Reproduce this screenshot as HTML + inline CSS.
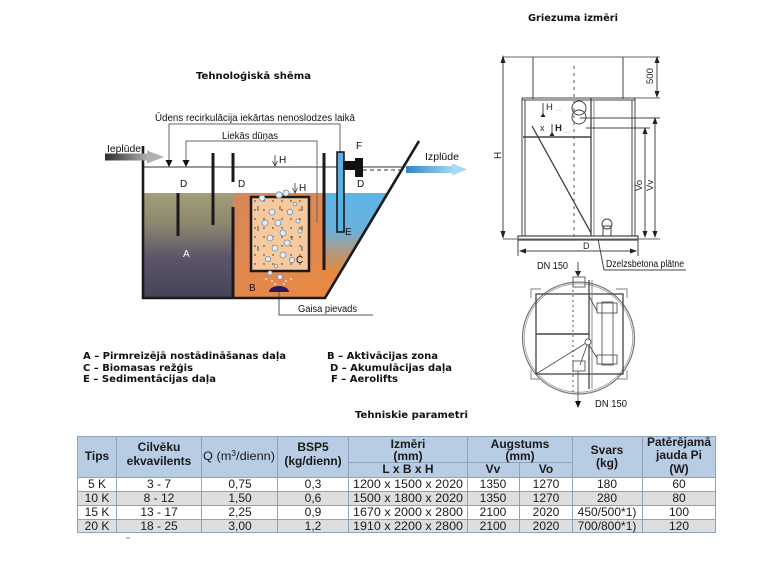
<!DOCTYPE html>
<html><head><meta charset="utf-8">
<style>
html,body{margin:0;padding:0;background:#fff;}
body{width:784px;height:581px;overflow:hidden;}
svg{display:block;}
</style></head>
<body>
<svg width="784" height="581" viewBox="0 0 784 581" xmlns="http://www.w3.org/2000/svg" font-family="'Liberation Sans', Arial, sans-serif">
<defs>
 <linearGradient id="gA" x1="0" y1="0" x2="0" y2="1">
  <stop offset="0" stop-color="#a29e76"/>
  <stop offset="0.3" stop-color="#8c8670"/>
  <stop offset="0.6" stop-color="#5e576a"/>
  <stop offset="1" stop-color="#474257"/>
 </linearGradient>
 <linearGradient id="gB" x1="0" y1="0" x2="1" y2="1">
  <stop offset="0" stop-color="#d8875c"/>
  <stop offset="1" stop-color="#ec8a3c"/>
 </linearGradient>
 <linearGradient id="gE" x1="0" y1="193" x2="0" y2="278" gradientUnits="userSpaceOnUse">
  <stop offset="0" stop-color="#5cb6e8"/>
  <stop offset="0.45" stop-color="#6cb0dc"/>
  <stop offset="0.68" stop-color="#b09a84"/>
  <stop offset="1" stop-color="#f08428"/>
 </linearGradient>
 <linearGradient id="gIn" x1="0" y1="0" x2="1" y2="0">
  <stop offset="0" stop-color="#2e2e2e"/>
  <stop offset="1" stop-color="#b4b4b4"/>
 </linearGradient>
 <linearGradient id="gOut" x1="0" y1="0" x2="1" y2="0">
  <stop offset="0" stop-color="#2f86cc"/>
  <stop offset="1" stop-color="#a8d8f4"/>
 </linearGradient>
 <pattern id="dots" width="9" height="9" patternUnits="userSpaceOnUse" x="252" y="198">
  <circle cx="3" cy="3" r="0.7" fill="#222"/>
 </pattern>
</defs>

<!-- ===== Titles ===== -->
<text x="196" y="79" font-family="'DejaVu Sans', sans-serif" font-size="10" font-weight="bold" fill="#111" textLength="115" lengthAdjust="spacingAndGlyphs">Tehnoloģiskā shēma</text>
<text x="528" y="21" font-family="'DejaVu Sans', sans-serif" font-size="10" font-weight="bold" fill="#111" textLength="90" lengthAdjust="spacingAndGlyphs">Griezuma izmēri</text>

<!-- ===== Left technological scheme ===== -->
<polygon points="233,193 388,193 325,298 233,298" fill="url(#gB)"/>
<rect x="143" y="193" width="90" height="105" fill="url(#gA)"/>
<polygon points="326,193 388,193 339,275 326,275" fill="url(#gE)"/>

<!-- box C -->
<rect x="251" y="197" width="58" height="74" fill="#f7c99e"/>
<rect x="251" y="197" width="58" height="74" fill="url(#dots)"/>
<g stroke="#333" stroke-width="0.8" fill="none">
 <path d="M258,206 v5 M258,226 v5 M258,246 v5 M302,206 v5 M302,226 v5 M302,246 v5 M280,206 v4 M270,236 v4 M292,236 v4"/>
</g>
<rect x="251" y="197" width="58" height="74" fill="none" stroke="#1a1a1a" stroke-width="2.5"/>

<!-- bubbles -->
<g fill="#e2ecf2" stroke="#6f8ea6" stroke-width="0.8">
 <circle cx="262" cy="198" r="3"/><circle cx="279" cy="195" r="3.2"/><circle cx="286" cy="193" r="3"/>
 <circle cx="272" cy="212" r="3"/><circle cx="290" cy="212" r="2.8"/><circle cx="265" cy="223" r="3"/>
 <circle cx="278" cy="223" r="3"/><circle cx="283" cy="233" r="3"/><circle cx="270" cy="238" r="3"/>
 <circle cx="287" cy="243" r="3"/><circle cx="275" cy="248" r="3"/><circle cx="283" cy="255" r="3"/>
 <circle cx="268" cy="259" r="2.6"/><circle cx="292" cy="260" r="2.6"/><circle cx="298" cy="221" r="2"/>
 <circle cx="300" cy="231" r="2"/><circle cx="270" cy="273" r="2.2"/><circle cx="280" cy="277" r="2.5"/>
 <circle cx="295" cy="204" r="1.8"/><circle cx="276" cy="266" r="1.8"/>
</g>
<g fill="#fff">
 <circle cx="266" cy="279" r="0.9"/><circle cx="272" cy="281" r="0.9"/><circle cx="286" cy="281" r="0.9"/><circle cx="291" cy="279" r="0.9"/><circle cx="275" cy="284" r="0.9"/><circle cx="284" cy="284" r="0.9"/>
</g>

<!-- diffuser and air line -->
<path d="M269,292 A10,6 0 0 1 289,292 Z" fill="#2a1860"/>
<path d="M279,292 V315 H373" fill="none" stroke="#555" stroke-width="1"/>
<text x="298" y="312" font-size="10" fill="#111" textLength="59" lengthAdjust="spacingAndGlyphs">Gaisa pievads</text>

<!-- water level line -->
<line x1="143" y1="167" x2="404" y2="167" stroke="#333" stroke-width="1"/>

<!-- tank walls -->
<line x1="143" y1="146" x2="143" y2="299" stroke="#1a1a1a" stroke-width="2.6"/>
<line x1="142" y1="298" x2="326" y2="298" stroke="#1a1a1a" stroke-width="2.6"/>
<line x1="419" y1="141" x2="325" y2="298" stroke="#1a1a1a" stroke-width="2.6"/>

<!-- baffles -->
<g stroke="#1a1a1a" stroke-width="3">
 <line x1="178" y1="193" x2="178" y2="236"/>
 <line x1="213" y1="153" x2="213" y2="225"/>
 <line x1="233" y1="153" x2="233" y2="182"/>
 <line x1="233" y1="207" x2="233" y2="298"/>
 <line x1="324" y1="153" x2="324" y2="270"/>
</g>

<!-- recirculation / excess sludge lines -->
<path d="M169,162 V124 H340 V152" fill="none" stroke="#666" stroke-width="1"/>
<path d="M186,162 V141 H317 V223" fill="none" stroke="#666" stroke-width="1"/>
<polygon points="165.5,160 172.5,160 169,167" fill="#111"/>
<polygon points="182.5,160 189.5,160 186,167" fill="#111"/>

<!-- airlift pipe -->
<rect x="337" y="152" width="7" height="80" fill="#5ab0e0" stroke="#111" stroke-width="1.5"/>
<rect x="343" y="161" width="15" height="9" fill="#111"/>
<rect x="355" y="158" width="8" height="19" fill="#111"/>
<line x1="363" y1="170" x2="405" y2="170" stroke="#333" stroke-width="1" stroke-dasharray="4,3"/>

<!-- inflow arrow -->
<rect x="105" y="153.5" width="44" height="7" fill="url(#gIn)"/>
<polygon points="147,150.5 164,157 147,163.5" fill="#b0b0b0"/>
<!-- outflow arrow -->
<rect x="406" y="166" width="48" height="7" fill="url(#gOut)"/>
<polygon points="452,163.5 467,169.5 452,175.5" fill="#a8d8f4"/>

<!-- H markers -->
<g stroke="#333" stroke-width="0.8" fill="none">
 <line x1="275" y1="155" x2="275" y2="166"/>
 <path d="M272.5,161 L275,166 L277.5,161"/>
 <line x1="295" y1="183" x2="295" y2="193"/>
 <path d="M292.5,188 L295,193 L297.5,188"/>
</g>
<text x="279" y="163" font-size="10" fill="#111">H</text>
<text x="286" y="167" font-size="8" fill="#999">...</text>
<text x="299" y="191" font-size="10" fill="#111">H</text>
<text x="306" y="195" font-size="8" fill="#999">..</text>

<!-- labels -->
<g font-size="10" fill="#111">
 <text x="155" y="121" textLength="200" lengthAdjust="spacingAndGlyphs">Ūdens recirkulācija iekārtas nenoslodzes laikā</text>
 <text x="222" y="139" textLength="56" lengthAdjust="spacingAndGlyphs">Liekās dūņas</text>
 <text x="107" y="152" textLength="34" lengthAdjust="spacingAndGlyphs">Ieplūde</text>
 <text x="425" y="160" textLength="34" lengthAdjust="spacingAndGlyphs">Izplūde</text>
 <text x="356" y="149">F</text>
 <text x="180" y="187">D</text>
 <text x="238" y="187">D</text>
 <text x="357" y="187">D</text>
 <text x="345" y="235">E</text>
 <text x="296" y="263">C</text>
 <text x="249" y="291">B</text>
</g>
<text x="183" y="257" font-size="10" fill="#fff">A</text>

<!-- ===== Right: section view ===== -->
<g stroke="#444" stroke-width="1" fill="none">
 <line x1="503" y1="57" x2="660" y2="57" stroke="#666"/>
 <line x1="533" y1="57" x2="533" y2="99"/>
 <line x1="623" y1="57" x2="623" y2="99"/>
 <line x1="623" y1="98" x2="660" y2="98" stroke="#666"/>
 <rect x="522" y="98" width="113" height="138"/>
 <line x1="525" y1="100" x2="525" y2="236"/>
 <line x1="632" y1="100" x2="632" y2="236"/>
 <line x1="522" y1="100" x2="635" y2="100"/>
 <line x1="591" y1="98" x2="591" y2="236" stroke-width="1.3"/>
 <line x1="594" y1="100" x2="594" y2="236" stroke="#888"/>
 <line x1="523" y1="137" x2="591" y2="137" stroke-width="1.5"/>
 <line x1="580" y1="118" x2="660" y2="118"/>
 <line x1="586" y1="128" x2="650" y2="128"/>
 <circle cx="579" cy="108" r="7"/>
 <circle cx="579" cy="117" r="7"/>
 <line x1="532" y1="126" x2="591" y2="233" stroke-width="1.3"/>
 <circle cx="607" cy="224" r="5"/>
 <rect x="603" y="226" width="8" height="10"/>
 <rect x="518" y="236" width="120" height="4" stroke-width="1.2"/>
 <line x1="503" y1="239" x2="660" y2="239" stroke="#666"/>
 <line x1="503" y1="60" x2="503" y2="236"/>
 <line x1="657" y1="60" x2="657" y2="95"/>
 <line x1="655" y1="121" x2="655" y2="236"/>
 <line x1="645" y1="131" x2="645" y2="236"/>
 <line x1="518" y1="240" x2="518" y2="256"/>
 <line x1="638" y1="240" x2="638" y2="256"/>
 <line x1="521" y1="251" x2="635" y2="251"/>
 <path d="M598,239 L604,270 H686"/>
 <line x1="543" y1="103" x2="543" y2="117"/>
 <line x1="552" y1="124" x2="552" y2="136"/>
</g>
<line x1="574" y1="66" x2="574" y2="240" stroke="#555" stroke-width="1" stroke-dasharray="3,4"/>
<g fill="#222">
 <polygon points="503,55 500.5,63 505.5,63"/>
 <polygon points="503,239 500.5,231 505.5,231"/>
 <polygon points="657,56 654.5,63 659.5,63"/>
 <polygon points="657,98 654.5,91 659.5,91"/>
 <polygon points="655,117 652.5,124 657.5,124"/>
 <polygon points="655,238 652.5,231 657.5,231"/>
 <polygon points="645,127 642.5,134 647.5,134"/>
 <polygon points="645,238 642.5,231 647.5,231"/>
 <polygon points="519,251 526,248.5 526,253.5"/>
 <polygon points="637,251 630,248.5 630,253.5"/>
 <polygon points="540.5,117 545.5,117 543,113"/>
 <polygon points="549.5,136 554.5,136 552,132"/>
</g>
<g font-size="9.5" fill="#222">
 <text x="546" y="110">H</text><text x="556" y="111" font-size="7" fill="#999">...</text>
 <text x="540" y="131" font-size="9">x</text>
 <text x="555" y="131" font-weight="bold">H</text><text x="564" y="133" font-size="7" fill="#999">...</text>
 <text x="583" y="249" font-size="9">D</text>
 <text transform="translate(501,159) rotate(-90)" font-size="10">H</text>
 <text transform="translate(653,84) rotate(-90)" font-size="9.5">500</text>
 <text transform="translate(642,191) rotate(-90)" font-size="9.5">Vo</text>
 <text transform="translate(653,191) rotate(-90)" font-size="9.5">Vv</text>
</g>
<text x="606" y="267" font-size="10" fill="#111" textLength="78" lengthAdjust="spacingAndGlyphs">Dzelzsbetona plātne</text>
<text x="537" y="269" font-size="10" fill="#111" textLength="31" lengthAdjust="spacingAndGlyphs">DN 150</text>
<line x1="578" y1="262" x2="578" y2="276" stroke="#333" stroke-width="1"/>
<polygon points="575,271 581,271 578,277" fill="#111"/>

<!-- ===== Right: plan view ===== -->
<g fill="none" stroke="#777" stroke-width="1.2">
 <circle cx="578.5" cy="338" r="56"/>
 <circle cx="578.5" cy="338" r="54.3" stroke="#999" stroke-width="0.8"/>
 <path d="M531,298 V289 H541 M616,289 H627 V298 M531,370 V379 H541 M616,379 H627 V370" stroke="#999"/>
</g>
<g fill="none" stroke="#444" stroke-width="1.3">
 <rect x="536" y="294" width="87" height="80"/>
 <line x1="536" y1="334" x2="589" y2="334" stroke-width="1.6"/>
 <line x1="589" y1="280" x2="589" y2="389"/>
 <line x1="592" y1="280" x2="592" y2="389" stroke="#888" stroke-width="1"/>
</g>
<g fill="none" stroke="#555" stroke-width="0.9">
 <rect x="573" y="277" width="12" height="10"/>
 <rect x="573" y="361" width="12" height="10"/>
 <line x1="578" y1="262" x2="578" y2="277"/>
 <line x1="578" y1="371" x2="578" y2="403"/>
 <line x1="536" y1="374" x2="586" y2="343"/>
 <circle cx="588" cy="342" r="3" fill="#fff"/>
 <line x1="589" y1="345" x2="597" y2="358"/>
 <line x1="587" y1="345" x2="580" y2="365"/>
 <line x1="589" y1="296" x2="597" y2="311"/>
 <rect x="602" y="302" width="11" height="63"/>
 <rect x="597" y="303" width="20" height="10"/>
 <rect x="597" y="355" width="20" height="9"/>
</g>
<line x1="573" y1="280" x2="573" y2="392" stroke="#555" stroke-width="1" stroke-dasharray="2,3"/>
<polygon points="575,401 581,401 578,408" fill="#111"/>
<text x="595" y="407" font-size="10" fill="#111" textLength="32" lengthAdjust="spacingAndGlyphs">DN 150</text>

<!-- ===== Legend ===== -->
<g font-family="'DejaVu Sans', sans-serif" font-size="9.5" font-weight="bold" fill="#111">
 <text x="83" y="359" textLength="203" lengthAdjust="spacingAndGlyphs">A – Pirmreizējā nostādināšanas daļa</text>
 <text x="83" y="371" textLength="110" lengthAdjust="spacingAndGlyphs">C – Biomasas režģis</text>
 <text x="83" y="382" textLength="133" lengthAdjust="spacingAndGlyphs">E – Sedimentācijas daļa</text>
 <text x="327" y="359" textLength="111" lengthAdjust="spacingAndGlyphs">B – Aktivācijas zona</text>
 <text x="330" y="371" textLength="122" lengthAdjust="spacingAndGlyphs">D – Akumulācijas daļa</text>
 <text x="331" y="382" textLength="67" lengthAdjust="spacingAndGlyphs">F – Aerolifts</text>
 <text x="355" y="418" textLength="113" lengthAdjust="spacingAndGlyphs">Tehniskie parametri</text>
</g>

<!-- ===== Table ===== -->
<rect x="77" y="436" width="639" height="41" fill="#b8cce4"/>
<rect x="77" y="477" width="639" height="14" fill="#ffffff"/>
<rect x="77" y="491" width="639" height="14" fill="#dedede"/>
<rect x="77" y="505" width="639" height="14" fill="#ffffff"/>
<rect x="77" y="519" width="639" height="14" fill="#dedede"/>
<g stroke="#8ea2bb" stroke-width="1" fill="none">
 <rect x="77.5" y="436.5" width="638" height="96"/>
 <line x1="77" y1="477.5" x2="716" y2="477.5"/>
 <line x1="77" y1="491.5" x2="716" y2="491.5"/>
 <line x1="77" y1="505.5" x2="716" y2="505.5"/>
 <line x1="77" y1="519.5" x2="716" y2="519.5"/>
 <line x1="348" y1="462.5" x2="572" y2="462.5"/>
 <line x1="116.5" y1="436" x2="116.5" y2="533"/>
 <line x1="201.5" y1="436" x2="201.5" y2="533"/>
 <line x1="277.5" y1="436" x2="277.5" y2="533"/>
 <line x1="348.5" y1="436" x2="348.5" y2="533"/>
 <line x1="467.5" y1="436" x2="467.5" y2="533"/>
 <line x1="519.5" y1="462" x2="519.5" y2="533"/>
 <line x1="572.5" y1="436" x2="572.5" y2="533"/>
 <line x1="642.5" y1="436" x2="642.5" y2="533"/>
</g>
<g font-size="12" font-weight="bold" fill="#1a1a1a" text-anchor="middle">
 <text x="97" y="460">Tips</text>
 <text x="159" y="451">Cilvēku</text>
 <text x="159" y="465">ekvavilents</text>
 <text x="313" y="451">BSP5</text>
 <text x="313" y="465">(kg/dienn)</text>
 <text x="408" y="448">Izmēri</text>
 <text x="408" y="460">(mm)</text>
 <text x="408" y="473">L x B x H</text>
 <text x="520" y="448">Augstums</text>
 <text x="520" y="460">(mm)</text>
 <text x="493" y="473">Vv</text>
 <text x="546" y="473">Vo</text>
 <text x="607" y="454">Svars</text>
 <text x="607" y="467">(kg)</text>
 <text x="679" y="446">Patērējamā</text>
 <text x="679" y="459">jauda Pi</text>
 <text x="679" y="473">(W)</text>
</g>
<text x="203" y="460" font-size="12" fill="#1a1a1a" textLength="72" lengthAdjust="spacingAndGlyphs">Q (m<tspan font-size="8" dy="-4">3</tspan><tspan dy="4">/dienn)</tspan></text>
<g font-size="12" fill="#1a1a1a" text-anchor="middle">
 <text x="97" y="488">5 K</text><text x="159" y="488">3 - 7</text><text x="240" y="488">0,75</text><text x="313" y="488">0,3</text>
 <text x="408" y="488" textLength="110" lengthAdjust="spacingAndGlyphs">1200 x 1500 x 2020</text>
 <text x="493" y="488">1350</text><text x="546" y="488">1270</text><text x="607" y="488">180</text><text x="679" y="488">60</text>

 <text x="97" y="502">10 K</text><text x="159" y="502">8 - 12</text><text x="240" y="502">1,50</text><text x="313" y="502">0,6</text>
 <text x="408" y="502" textLength="110" lengthAdjust="spacingAndGlyphs">1500 x 1800 x 2020</text>
 <text x="493" y="502">1350</text><text x="546" y="502">1270</text><text x="607" y="502">280</text><text x="679" y="502">80</text>

 <text x="97" y="516">15 K</text><text x="159" y="516">13 - 17</text><text x="240" y="516">2,25</text><text x="313" y="516">0,9</text>
 <text x="408" y="516" textLength="110" lengthAdjust="spacingAndGlyphs">1670 x 2000 x 2800</text>
 <text x="493" y="516">2100</text><text x="546" y="516">2020</text><text x="607" y="516">450/500*1)</text><text x="679" y="516">100</text>

 <text x="97" y="530">20 K</text><text x="159" y="530">18 - 25</text><text x="240" y="530">3,00</text><text x="313" y="530">1,2</text>
 <text x="408" y="530" textLength="110" lengthAdjust="spacingAndGlyphs">1910 x 2200 x 2800</text>
 <text x="493" y="530">2100</text><text x="546" y="530">2020</text><text x="607" y="530">700/800*1)</text><text x="679" y="530">120</text>
</g>
<line x1="126" y1="538" x2="130" y2="538" stroke="#888" stroke-width="1"/>
</svg>
</body></html>
